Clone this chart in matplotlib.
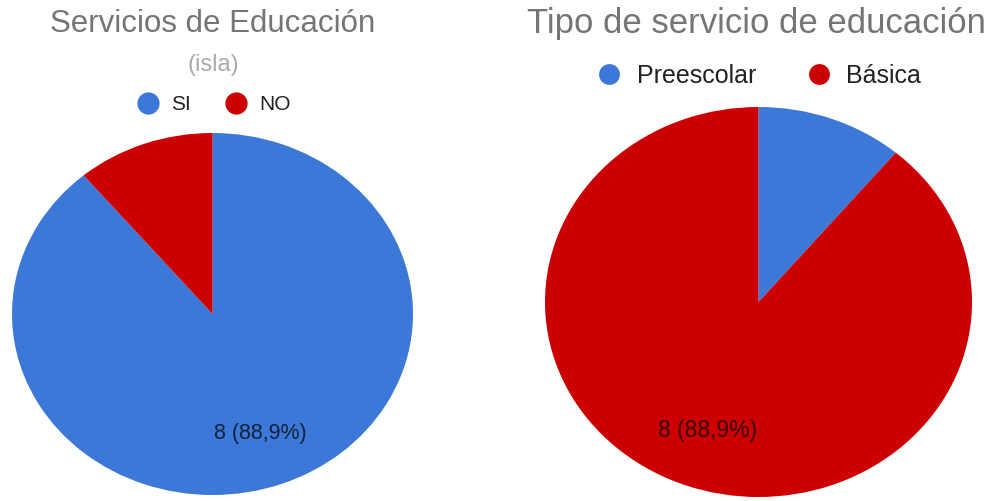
import numpy as np
import matplotlib
matplotlib.use("Agg")
import matplotlib.pyplot as plt
from matplotlib.lines import Line2D

#==================================#
# data

left_title    = "Servicios de Educación"
left_subtitle = "(isla)"
left_labels   = ["SI", "NO"]
left_values   = [8, 1]

right_title   = "Tipo de servicio de educación"
right_labels  = ["Preescolar", "Básica"]
right_values  = [1, 8]

colors = ["#3c78d8", "#cc0000"]

plt.rcParams['font.family'] = ['Liberation Sans', 'DejaVu Sans']

W, H = 998, 501
fig = plt.figure(figsize=(W/100, H/100), dpi=100)


def px_box(x0, x1, y0, y1):
    # pixel box (image coords, y down) -> figure rect
    return [x0/W, (H - y1)/H, (x1 - x0)/W, (y1 - y0)/H]


def pct_label(values):
    total = float(sum(values))
    def fmt(p):
        # only the big slice gets a label
        if p < 20:
            return ""
        n = int(round(p*total/100.))
        return f"{n} ({p:.1f}%)".replace(".", ",")
    return fmt


def draw_pie(rect, values, lbl_size):
    ax = fig.add_axes(rect)
    wedges, texts, autotexts = ax.pie(
        values, colors=colors, startangle=90, counterclock=False,
        autopct=pct_label(values), pctdistance=0.7,
        wedgeprops=dict(linewidth=0),
        textprops=dict(fontsize=lbl_size, color="black", alpha=0.72),
    )
    ax.set_aspect('auto')
    ax.set_xlim(-1, 1)
    ax.set_ylim(-1, 1)
    ax.axis('off')
    return ax


def draw_legend(labels, cx, cy, fontsize, msize, colsp):
    handles = [Line2D([], [], linestyle='none', marker='o', markersize=msize,
                      markerfacecolor=c, markeredgewidth=0) for c in colors]
    fig.legend(handles, labels, loc='center',
               bbox_to_anchor=(cx/W, (H - cy)/H), ncol=len(labels),
               frameon=False, fontsize=fontsize, handletextpad=0.6,
               columnspacing=colsp, handlelength=1.0,
               labelcolor="#222222")


#---- left chart:
draw_pie(px_box(12, 413, 133, 495), left_values, 15.5)
fig.text(213/W, (H - 32)/H, left_title, ha='center', va='baseline',
         fontsize=22.5, color="#757575")
fig.text(213/W, (H - 71)/H, left_subtitle, ha='center', va='baseline',
         fontsize=17, color="#aaaaaa")
draw_legend(left_labels, 214, 105, 15, 16, 1.7)

#---- right chart:
draw_pie(px_box(545, 972, 107, 497), right_values, 16.5)
fig.text(756/W, (H - 33)/H, right_title, ha='center', va='baseline',
         fontsize=25, color="#757575")
draw_legend(right_labels, 759, 76, 18, 15, 2.0)

fig.savefig("out.png", dpi=100, facecolor="white")
